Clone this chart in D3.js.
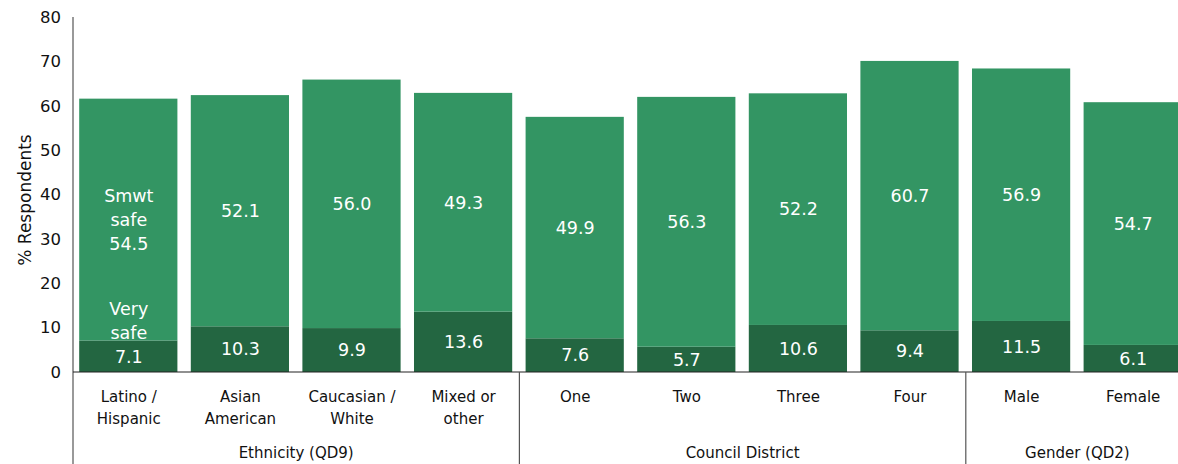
<!DOCTYPE html>
<html>
<head>
<meta charset="utf-8">
<script src="https://cdn.jsdelivr.net/npm/d3@7"></script>
<style>
  html, body { margin: 0; padding: 0; background: #fff; }
  svg { display: block; font-family: "DejaVu Sans", sans-serif; }
</style>
</head>
<body>
<svg id="chart" width="1178" height="464"></svg>
<script>
// Categories (two-line labels) and their groups
const categories = ["Latino / Hispanic", "Asian American", "Caucasian / White", "Mixed or other",
                    "One", "Two", "Three", "Four", "Male", "Female"];
const categoryLines = [["Latino /", "Hispanic"], ["Asian", "American"], ["Caucasian /", "White"], ["Mixed or", "other"],
                       ["One"], ["Two"], ["Three"], ["Four"], ["Male"], ["Female"]];
const groups = ["Ethnicity (QD9)", "Council District", "Gender (QD2)"];
const groupStarts = [0, 4, 8];
const groupEnds = [3, 7, 9];

// Series values (% respondents)
const verySafe = [7.1, 10.3, 9.9, 13.6, 7.6, 5.7, 10.6, 9.4, 11.5, 6.1];
const smwtSafe = [54.5, 52.1, 56.0, 49.3, 49.9, 56.3, 52.2, 60.7, 56.9, 54.7];

const yTicks = [0, 10, 20, 30, 40, 50, 60, 70, 80];

const colorVery = "#236641";
const colorSmwt = "#339563";

const svg = d3.select("#chart");
const plotLeft = 73, plotTop = 17, baseline = 372, plotBottom = 464;

const x = d3.scaleBand().domain(categories).range([plotLeft, plotLeft + 10 * 111.6])
  .paddingInner(0.12).paddingOuter(0.06);
const y = d3.scaleLinear().domain([0, 80]).range([baseline, plotTop]);

// stacked bars
const rows = categories.map((c, i) => ({ cat: c, very: verySafe[i], smwt: smwtSafe[i] }));
const stack = d3.stack().keys(["very", "smwt"])(rows);
const colors = [colorVery, colorSmwt];

stack.forEach((layer, li) => {
  svg.append("g").selectAll("rect").data(layer).join("rect")
    .attr("x", d => x(d.data.cat) - 0.5)
    .attr("width", x.bandwidth())
    .attr("y", d => y(d[1]))
    .attr("height", d => y(d[0]) - y(d[1]))
    .attr("fill", colors[li]);
});

// value labels
const labelG = svg.append("g").attr("fill", "#fff").attr("font-size", 17.5).attr("text-anchor", "middle");
stack.forEach((layer, li) => {
  layer.forEach((d, i) => {
    const cx = x(d.data.cat) + x.bandwidth() / 2;
    const cy = y((d[0] + d[1]) / 2);
    const val = (d[1] - d[0]).toFixed(1);
    let lines = [val], offsets = [0];
    if (i === 0 && li === 0) { lines = ["Very", "safe", val]; offsets = [-48, -24, 0]; }
    if (i === 0 && li === 1) { lines = ["Smwt", "safe", val]; offsets = [-24, 0, 24]; }
    lines.forEach((t, k) => {
      labelG.append("text").attr("x", cx).attr("y", cy + offsets[k]).attr("dy", "0.36em").text(t);
    });
  });
});

// y axis
const yAxis = svg.append("g").attr("transform", `translate(${plotLeft},0)`)
  .call(d3.axisLeft(y).tickValues(yTicks).tickSize(0).tickPadding(12));
yAxis.select(".domain").remove();
yAxis.selectAll("text").attr("font-size", 16.5).attr("fill", "#111").attr("font-family", "DejaVu Sans, sans-serif");

svg.append("line").attr("x1", plotLeft).attr("x2", plotLeft).attr("y1", plotTop).attr("y2", plotBottom)
  .attr("stroke", "#555").attr("stroke-width", 1.2);
svg.append("line").attr("x1", plotLeft).attr("x2", 1178).attr("y1", baseline).attr("y2", baseline)
  .attr("stroke", "#222").attr("stroke-width", 1.2);

svg.append("text").attr("transform", "translate(31,200) rotate(-90)")
  .attr("text-anchor", "middle").attr("font-size", 17).attr("fill", "#111").text("% Respondents");

// category labels
const catG = svg.append("g").attr("font-size", 15).attr("fill", "#111").attr("text-anchor", "middle");
categories.forEach((c, i) => {
  const cx = x(c) + x.bandwidth() / 2;
  categoryLines[i].forEach((t, k) => {
    catG.append("text").attr("x", cx).attr("y", 402 + k * 22).text(t);
  });
});

// group separators and labels
const step = x.step();
const groupEdge = i => plotLeft + i * step;
[1, 2].forEach(g => {
  svg.append("line").attr("x1", groupEdge(groupStarts[g])).attr("x2", groupEdge(groupStarts[g]))
    .attr("y1", baseline).attr("y2", plotBottom).attr("stroke", "#555").attr("stroke-width", 1.2);
});
groups.forEach((g, i) => {
  const a = groupEdge(groupStarts[i]), b = groupEdge(groupEnds[i] + 1);
  svg.append("text").attr("x", (a + b) / 2).attr("y", 458).attr("text-anchor", "middle")
    .attr("font-size", 15).attr("fill", "#111").text(g);
});
</script>
</body>
</html>
